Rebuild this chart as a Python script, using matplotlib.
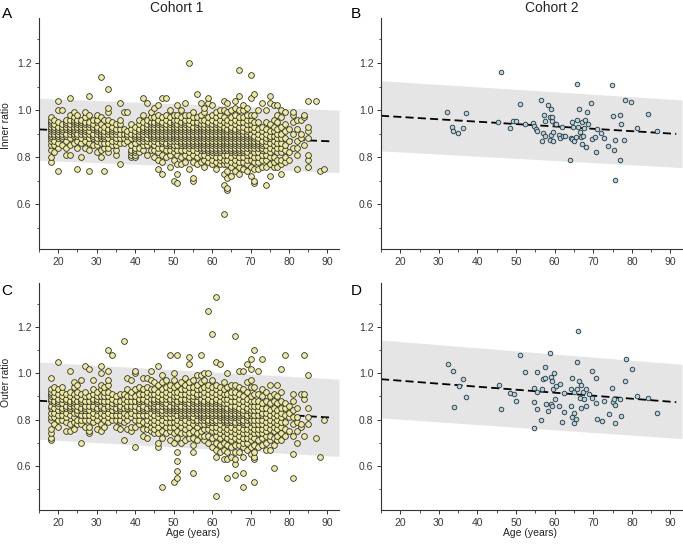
import matplotlib
matplotlib.use('Agg')
import matplotlib.pyplot as plt
from matplotlib.ticker import MultipleLocator

plt.rcParams['font.family'] = ['Liberation Sans', 'DejaVu Sans']

# Cohort 1: ratio x100 for each subject, one row per age (years)
inner_c1 = """
18: 78 80 83 85 87 88 89 90 91 92 93 94 95 96 97
19: 82 85 87 89 90 91 92 93 94 96
20: 74 84 86 88 89 90 91 92 93 95 100 104
21: 85 88 89 90 91 92 93 94 100
22: 81 84 87 89 90 92 93 94 95 96
23: 81 85 88 90 91 92 93 94 96 98 105
24: 86 89 90 91 92 93 94 95 96 97 99
25: 75 84 87 89 90 92 93 94 95 96 98
26: 80 86 88 90 91 92 93 94 95 96
27: 84 87 89 90 91 92 93 94 95 97 99
28: 74 83 86 88 90 91 93 94 95 98 106
29: 85 88 89 90 92 93 94 96
30: 82 85 87 88 90 91 92 93 95 96 98
31: 80 83 86 88 89 90 91 92 94 97 114
32: 74 84 86 88 89 90 91 93 96
33: 82 84 86 88 90 91 92 94 96 99 101 109
34: 85 87 89 90 91 92 93 95
35: 81 83 85 87 88 90 91 92 94
36: 77 86 88 90 92 94 96 103
37: 86 88 90 92 99
38: 87 89 90 91 99
39: 80 81 82 83 85 88 90 92 94
40: 80 81 82 83 84 86 88 89 90 91 93
41: 82 84 87 88 89 90 91 92 94 96
42: 83 85 87 88 89 90 91 92 93 95 98 105
43: 81 85 87 88 90 91 92 93 94 96 103
44: 83 86 88 89 90 91 92 93 94 95 97 99
45: 80 83 85 87 88 89 90 91 92 93 94 95 97 101
46: 75 79 82 84 86 88 89 90 91 92 93 94 95 96 98 102
47: 73 78 81 84 86 87 88 89 90 91 92 93 94 95 97 105
48: 80 83 85 86 88 89 90 91 92 93 94 96 98 105
49: 76 81 83 85 86 87 88 89 90 91 92 93 94 95 97 100
50: 70 79 82 84 85 87 88 89 90 91 92 93 94 95 96 98
51: 69 73 77 81 83 85 87 88 89 90 91 92 93 94 96 98 102
52: 77 80 83 85 86 87 88 89 90 91 92 93 94 95 97 100
53: 78 81 83 85 86 87 88 89 90 91 92 93 94 95 96 98 103
54: 75 80 82 84 85 86 87 88 89 90 91 92 93 94 96 98 120
55: 70 71 78 81 83 85 86 87 88 89 90 91 92 93 95 97 99
56: 77 80 82 84 85 86 87 88 89 90 91 92 93 94 95 97 107
57: 78 81 83 84 85 86 87 88 89 90 91 92 93 94 96 98 103
58: 76 79 81 83 84 85 86 87 88 89 90 91 92 93 94 96 99 101
59: 78 80 82 83 84 85 86 87 88 89 90 91 92 93 94 95 97 103 105
60: 77 79 81 82 83 84 85 86 87 88 89 90 91 92 93 94 96 98 102
61: 75 78 80 82 83 84 85 86 87 88 89 90 91 92 93 94 95 97 99
62: 77 79 80 82 83 84 85 86 87 88 89 90 91 92 93 94 96 98 100
63: 56 68 73 77 79 81 83 84 85 86 87 88 89 90 91 92 93 95 97 100 104
64: 66 67 71 74 77 79 81 83 84 85 86 87 88 89 90 91 92 94 96 99 103
65: 72 76 78 80 82 83 84 85 86 87 88 89 90 91 92 93 95 97 100
66: 74 77 79 81 82 83 84 85 86 87 88 89 90 91 92 94 96 98 101 104
67: 73 76 78 80 82 83 84 85 86 87 88 89 90 91 92 93 95 97 100 106 117
68: 75 78 80 82 83 84 85 86 87 88 89 90 91 93 95 97 100 102
69: 74 77 79 81 82 84 85 86 87 88 89 90 91 92 94 96 98 101
70: 72 76 79 81 83 84 85 86 87 88 89 90 92 94 96 98 105 115
71: 69 70 75 78 80 82 84 85 86 87 88 89 91 93 95 98 107
72: 75 78 80 82 84 85 86 87 88 90 92 95 100
73: 76 79 81 83 84 85 86 87 89 91 93 103
74: 68 76 79 81 83 85 87 88 90 92 95 100
75: 72 77 80 82 84 86 88 89 91 94 103 106
76: 76 78 80 83 85 87 89 91 93 96 102
77: 76 79 82 84 86 88 90 92 95 98 102
78: 73 77 79 82 84 86 88 90 93 97 100
79: 78 80 83 85 88 91 94 99
80: 79 82 87 92
81: 84 90 95 98 99
82: 75 81 84 87 92 96
83: 88 90 96
84: 85 97 98
85: 76 79 81 88 91 93 104
87: 104
88: 74
89: 75
"""

outer_c1 = """
18: 71 72 74 76 80 81 83 85 86 88 89 90 91 92 93 98
19: 78 81 83 85 87 88 90 92 94
20: 77 80 82 84 86 87 88 89 91 93 105
21: 80 82 84 85 87 89 90 92 94
22: 75 79 81 83 85 86 88 89 91
23: 75 78 82 84 85 86 87 88 90 92 101
24: 76 79 81 83 85 86 87 88 89 91 94 96
25: 78 80 83 84 86 88 90 92 95
26: 70 78 80 82 84 85 87 88 89 91 97
27: 77 80 82 84 85 86 88 90 92 103
28: 74 75 77 80 82 84 86 88 90 102
29: 79 81 83 85 86 88 89 91 93 97
30: 76 80 82 84 85 87 88 89 90 92
31: 75 78 81 83 85 86 88 90 93 95 100 103
32: 77 80 82 84 85 87 88 90 92 94
33: 79 81 83 85 86 88 90 92 95 97 101 110
34: 80 82 84 86 87 89 91 108
35: 77 80 82 84 85 87 88 90
36: 76 79 80 82 84 85 86 88 91
37: 71 79 81 83 85 87 89 91 114
38: 76 80 82 85 86 88 90 93 98
39: 75 77 81 83 85 86 88 90 92 97
40: 68 77 80 82 84 86 88 90 93 100 101
41: 78 80 82 84 85 87 88 89 91 94
42: 73 76 79 82 84 85 86 88 89 91 93 98
43: 72 76 78 80 82 84 85 87 88 90 92 94 98
44: 75 77 79 81 83 85 86 87 89 91 93 97 101
45: 74 76 78 80 82 84 85 86 87 88 89 91 93 96
46: 68 70 74 77 79 81 83 84 85 86 88 89 90 92 95 103
47: 51 72 75 78 80 82 83 84 86 87 88 89 91 93 96 99
48: 74 77 79 81 83 84 85 86 87 89 90 92 94 97
49: 71 75 77 79 81 83 84 85 86 88 89 91 93 95 108
50: 53 70 74 77 79 81 83 84 85 86 87 89 90 92 94 97 100
51: 55 58 62 66 72 75 78 80 82 84 85 86 87 88 90 92 95 108
52: 70 74 77 79 81 82 83 84 85 86 88 89 91 93 96
53: 71 74 76 78 80 82 83 84 85 86 87 88 89 91 93 95 98
54: 72 74 77 79 81 82 83 84 85 86 87 89 90 92 94 96 104 107
55: 57 66 69 72 75 78 80 81 83 84 85 86 87 88 89 90 92 94 97
56: 71 74 77 79 80 82 83 84 85 86 87 88 90 91 93 95 99
57: 73 75 78 80 81 82 83 84 85 86 87 88 89 91 93 96 99 108
58: 71 73 76 78 80 81 82 83 84 85 86 87 88 90 92 94 97 100
59: 70 73 76 78 79 80 82 83 84 85 86 87 88 89 91 93 95 100 127
60: 68 72 75 77 79 80 81 82 83 84 85 86 87 88 90 92 94 97 117
61: 47 64 67 70 73 75 77 79 80 82 83 84 85 86 87 88 89 91 93 95 105 133
62: 66 69 72 74 76 78 80 81 82 83 84 85 86 87 88 90 92 94 104
63: 63 67 70 73 75 77 79 80 81 82 83 84 85 86 87 89 91 93 96
64: 55 63 66 69 72 74 76 78 79 80 81 82 83 84 85 87 89 91 94 100
65: 64 68 71 73 75 77 79 80 81 82 83 84 85 86 88 90 92 95
66: 56 61 63 66 69 72 74 76 78 79 81 82 83 84 85 86 88 90 92 95 116
67: 66 69 71 73 75 77 79 80 81 82 83 84 85 87 89 91 94 101
68: 51 57 64 68 70 72 74 76 78 79 80 82 83 84 86 88 90 93 101
69: 67 70 72 74 76 78 80 81 82 84 85 87 89 92 96 104
70: 65 68 71 73 75 77 79 80 82 83 84 86 88 90 94 97 102 106
71: 53 63 64 66 69 72 74 76 78 80 82 84 86 88 91 94 110
72: 68 71 74 76 78 80 82 84 86 88 91 101
73: 69 72 74 76 78 80 82 83 85 87 90 93 106
74: 67 70 73 75 77 79 81 83 85 88 92
75: 67 71 73 76 78 80 82 84 87 90 95
76: 59 69 72 75 77 79 81 83 85 88 91
77: 71 73 76 78 80 82 84 87 90 95
78: 71 74 77 79 81 83 85 88 92 102
79: 73 76 79 82 85 87 108
80: 75 81 83 86
81: 55 65 73 78 81 84 88 91
82: 70 75 79 81 85
83: 77 78 91
84: 73 89 91 108
85: 78 81 85 99
87: 72
88: 64
89: 80
"""

# Cohort 2: (age, ratio) per subject
inner_c2 = [
    (32.1, 0.990), (33.5, 0.930), (33.7, 0.911), (35.0, 0.902), (36.2, 0.926),
    (36.9, 0.986), (45.4, 0.950), (46.1, 1.163), (48.3, 0.922), (49.3, 0.955),
    (50.0, 0.953), (51.0, 1.028), (52.3, 0.939), (54.5, 0.946), (54.7, 0.932),
    (55.2, 0.919), (55.4, 0.912), (56.4, 1.045), (56.7, 0.867), (56.9, 0.904),
    (57.2, 0.980), (57.4, 0.889), (57.6, 0.952), (58.3, 1.020), (58.7, 0.969),
    (58.9, 0.872), (59.0, 0.894), (59.0, 1.003), (59.2, 0.952), (59.4, 0.969),
    (59.6, 0.867), (59.7, 0.905), (60.0, 0.943), (60.3, 0.942), (61.1, 0.896),
    (61.5, 0.881), (61.9, 0.930), (62.2, 0.888), (62.6, 0.891), (64.1, 0.786),
    (64.2, 0.882), (64.5, 0.950), (64.5, 0.878), (64.8, 0.929), (65.0, 0.870),
    (65.5, 0.884), (65.8, 1.113), (65.8, 0.959), (66.1, 0.929), (66.3, 1.004),
    (66.5, 0.909), (66.7, 0.887), (67.0, 0.855), (67.1, 0.950), (67.4, 0.891),
    (67.7, 0.925), (67.8, 0.960), (68.1, 0.844), (68.3, 0.993), (68.7, 0.940),
    (69.4, 1.031), (69.7, 0.879), (70.4, 0.885), (70.9, 0.921), (70.7, 0.820),
    (72.0, 0.904), (72.8, 0.882), (73.9, 0.848), (74.9, 1.108), (75.0, 0.977),
    (75.4, 0.830), (75.6, 0.875), (75.6, 0.705), (77.0, 0.980), (77.1, 0.942),
    (77.0, 0.790), (78.0, 0.875), (78.3, 1.041), (79.9, 1.033), (81.3, 0.925),
    (84.3, 0.982), (86.5, 0.913),
]

outer_c2 = [
    (32.3, 1.040), (33.6, 1.008), (33.9, 0.854), (35.2, 0.943), (36.3, 0.973),
    (37.0, 0.899), (45.6, 0.949), (46.2, 0.847), (48.4, 0.915), (49.4, 0.908),
    (50.0, 0.881), (51.1, 1.078), (52.4, 1.006), (54.6, 0.938), (54.6, 0.877),
    (54.7, 0.762), (55.3, 1.003), (55.5, 0.844), (55.5, 0.918), (56.5, 0.796),
    (56.8, 0.933), (57.0, 0.973), (57.4, 0.977), (57.6, 1.028), (57.7, 0.867),
    (58.4, 0.837), (58.8, 1.088), (59.0, 0.983), (59.1, 0.868), (59.3, 0.860),
    (59.4, 0.966), (59.7, 0.932), (59.8, 0.999), (60.0, 0.889), (60.4, 0.946),
    (61.1, 0.858), (61.5, 0.955), (61.9, 0.789), (62.3, 0.833), (62.5, 0.915),
    (64.2, 0.933), (64.3, 0.857), (64.6, 0.977), (64.6, 0.813), (64.9, 0.919),
    (65.1, 0.828), (65.1, 0.783), (65.6, 0.801), (65.9, 1.048), (65.9, 0.933),
    (66.1, 1.182), (66.3, 0.966), (66.6, 0.894), (66.7, 0.848), (66.9, 0.948),
    (67.3, 0.918), (67.7, 0.888), (68.1, 0.857), (68.2, 0.932), (68.8, 0.909),
    (69.6, 1.008), (69.7, 0.894), (70.6, 0.871), (70.8, 0.980), (70.9, 0.804),
    (72.2, 0.794), (72.9, 0.881), (74.1, 0.826), (74.9, 0.936), (75.1, 0.877),
    (75.4, 0.887), (75.7, 0.861), (75.7, 0.786), (77.0, 0.889), (77.1, 0.817),
    (78.1, 0.965), (78.4, 1.061), (80.0, 1.016), (81.4, 0.902), (84.3, 0.895),
    (86.6, 0.828),
]

# regression line (dashed) and prediction band, read at the ends
line_x = [15, 91.5]
band_x = [15, 93]
fit_inner_c1 = [0.918, 0.867]
fit_inner_c2 = [0.976, 0.899]
fit_outer_c1 = [0.881, 0.808]
fit_outer_c2 = [0.974, 0.875]
band_inner_c1 = ([0.787, 0.735], [1.050, 1.000])
band_inner_c2 = ([0.827, 0.756], [1.125, 1.043])
band_outer_c1 = ([0.715, 0.641], [1.048, 0.974])
band_outer_c2 = ([0.807, 0.718], [1.143, 1.038])


def parse(table):
    ages, vals = [], []
    for row in table.strip().splitlines():
        age, rest = row.split(':')
        for v in rest.split():
            ages.append(int(age))
            vals.append(int(v) / 100)
    return ages, vals


W, H = 683, 549
fig = plt.figure(figsize=(W / 100, H / 100), dpi=100)


def make_axes(l, r, t, b):
    return fig.add_axes([l / W, 1 - b / H, (r - l) / W, (b - t) / H])


def panel(ax, ages, vals, fit, band, color, size):
    ax.fill_between(band_x, band[0], band[1], color='#e5e5e5', lw=0, zorder=0)
    ax.plot(line_x, fit, color='black', lw=1.3, dashes=(4.5, 2.3), zorder=1)
    ax.scatter(ages, vals, s=size, c=color, edgecolors='#303030',
               linewidths=0.6, zorder=2)
    ax.set_xlim(15, 93)
    ax.set_ylim(0.41, 1.39)
    ax.xaxis.set_minor_locator(MultipleLocator(5))
    ax.yaxis.set_major_locator(MultipleLocator(0.2))
    ax.yaxis.set_minor_locator(MultipleLocator(0.1))
    ax.set_xticks(range(20, 91, 10))
    for s in ['top', 'right']:
        ax.spines[s].set_visible(False)
    for s in ['left', 'bottom']:
        ax.spines[s].set_color('#333333')
        ax.spines[s].set_linewidth(0.8)
    ax.tick_params(which='major', length=3, width=0.7, color='#333333',
                   labelsize=7.5, labelcolor='#3a3a3a', pad=2.5)
    ax.tick_params(which='minor', length=1.8, width=0.6, color='#333333')
    ax.yaxis.set_major_formatter(plt.FuncFormatter(lambda v, p: f'{v:.1f}'))


yellow = '#efeb9c'
blue = '#a8d8ea'

axA = make_axes(39, 339, 18.3, 249)
axB = make_axes(381, 682, 18.3, 249)
axC = make_axes(39, 339, 282.7, 510)
axD = make_axes(381, 682, 282.7, 510)

x, y = parse(inner_c1)
panel(axA, x, y, fit_inner_c1, band_inner_c1, yellow, 17)
x, y = zip(*inner_c2)
panel(axB, x, y, fit_inner_c2, band_inner_c2, blue, 11)
x, y = parse(outer_c1)
panel(axC, x, y, fit_outer_c1, band_outer_c1, yellow, 17)
x, y = zip(*outer_c2)
panel(axD, x, y, fit_outer_c2, band_outer_c2, blue, 11)

# panel letters, titles and axis labels
for letter, px, py in [('A', 1.5, 18.3), ('B', 351, 18.3), ('C', 1.5, 295), ('D', 351, 295)]:
    fig.text(px / W, 1 - py / H, letter, fontsize=11, va='baseline', ha='left')
fig.text(177 / W, 1 - 12 / H, 'Cohort 1', fontsize=10, ha='center', va='baseline', color='#222222')
fig.text(552 / W, 1 - 12 / H, 'Cohort 2', fontsize=10, ha='center', va='baseline', color='#222222')
fig.text(6 / W, 1 - 126 / H, 'Inner ratio', fontsize=7.5, rotation=90, ha='center', va='center', color='#222222')
fig.text(6 / W, 1 - 382 / H, 'Outer ratio', fontsize=7.5, rotation=90, ha='center', va='center', color='#222222')
fig.text(193 / W, 1 - 533 / H, 'Age (years)', fontsize=7.5, ha='center', va='center', color='#222222')
fig.text(530 / W, 1 - 533 / H, 'Age (years)', fontsize=7.5, ha='center', va='center', color='#222222')

fig.savefig('out.png', dpi=100)
